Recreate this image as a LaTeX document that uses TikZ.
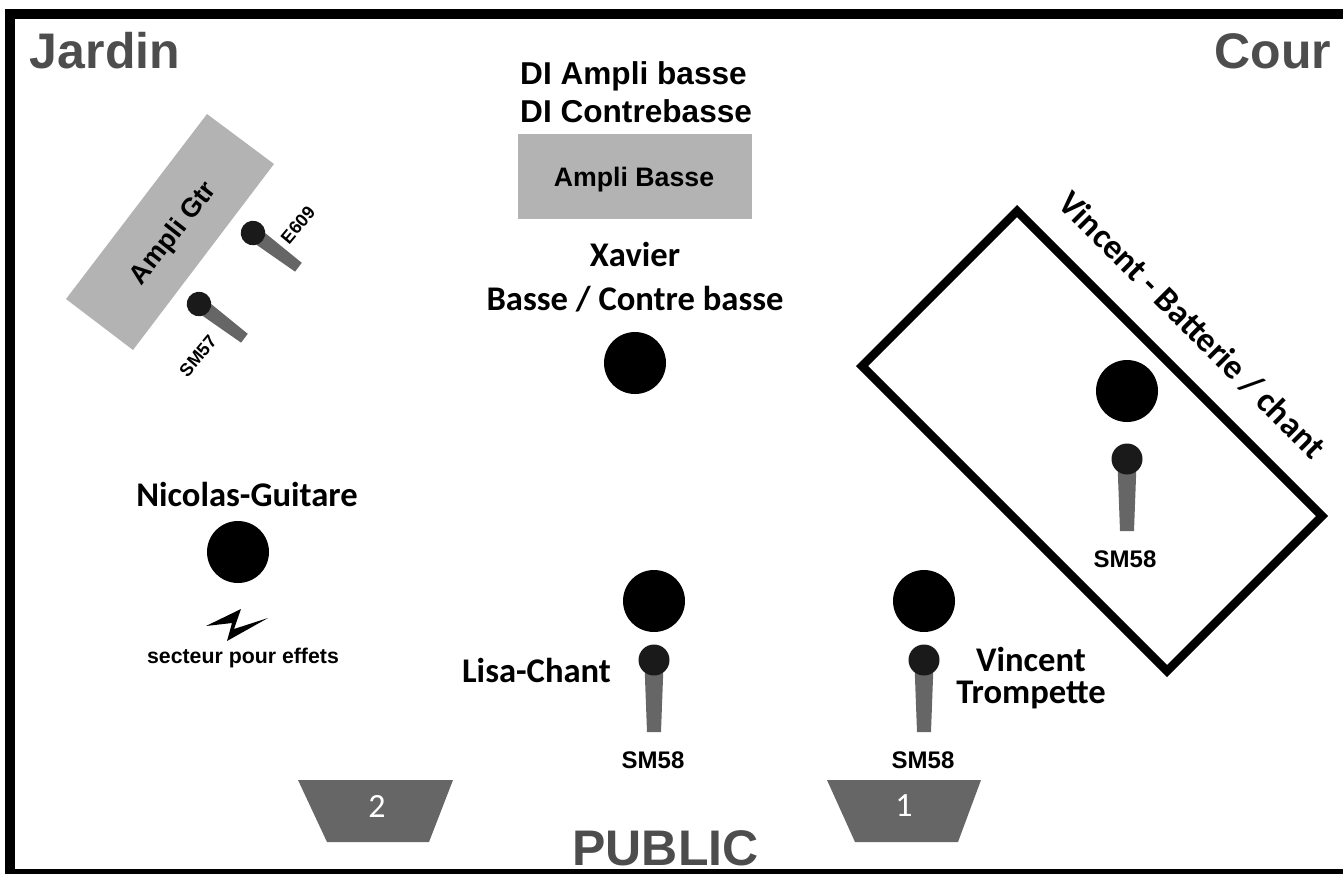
\documentclass[tikz,border=0pt]{standalone}
\usepackage{fontspec}
\setmainfont{Carlito}
\newfontfamily\arialfont{Liberation Sans}
\definecolor{titregris}{HTML}{4D4D4D}
\definecolor{micgris}{HTML}{666666}
\definecolor{micnoir}{HTML}{1A1A1A}
\definecolor{amplgris}{HTML}{B3B3B3}
\tikzset{
  personne/.style={circle,fill=black,inner sep=0pt,minimum size=62pt},
  titre/.style={font=\arialfont\bfseries\fontsize{50}{50}\selectfont,text=titregris,inner sep=0pt,anchor=base},
  nom/.style={font=\bfseries\fontsize{34.6}{34.6}\selectfont,inner sep=0pt,anchor=base,align=center},
  arial/.style={font=\arialfont\bfseries\fontsize{#1}{#1}\selectfont,inner sep=0pt,anchor=base},
  retour/.style={fill=micgris},
  numero/.style={text=white,font=\fontsize{34}{34}\selectfont,inner sep=0pt},
  micro/.pic={
    \fill[micgris] (-9.5,5) -- (9.5,5) -- (7,72) -- (-7,72) -- cycle;
    \fill[micnoir] (0,0) circle (15.5);
  }
}
\begin{document}
\begin{tikzpicture}[x=1pt,y=-1pt]
  \useasboundingbox (0,0) rectangle (1343,873);
  \clip (0,0) rectangle (1343,873);
  % cadre
  \draw[line width=10pt] (10,14) rectangle (1360,874);
  % titres
  \node[titre] (jardin) at (105,68) {Jardin};
  \node[titre] (cour) at (1273,68) {Cour};
  \node[titre] (public) at (665.5,865) {PUBLIC};
  % amplis
  \fill[amplgris] (518,134) rectangle (752,219);
  \node[arial=26.7] (amplibasse) at (634,186) {Ampli Basse};
  \node[arial=31.6,anchor=base west] (dia) at (520,84) {DI Ampli basse};
  \node[arial=31.6,anchor=base west] (dib) at (520,122) {DI Contrebasse};
  \fill[amplgris] (207,114) -- (274,164) -- (133,350) -- (66,299) -- cycle;
  \node[arial=26.7,anchor=center,rotate=52] (ampligtr) at (174,234) {Ampli Gtr};
  % guitare
  \pic[rotate=53,scale=.79] at (253,233) {micro};
  \pic[rotate=53,scale=.79] at (199,304) {micro};
  \node[arial=18,anchor=center,rotate=50] (e609) at (298,225) {E609};
  \node[arial=18,anchor=center,rotate=50] (sm57) at (198,356) {SM57};
  \node[personne] (nicolas) at (238,552) {};
  \node[nom] (nicolasnom) at (247,506) {Nicolas-Guitare};
  \fill (206,626) -- (241,609) -- (234,629) -- (268,618) -- (227,641) -- (232,623) -- cycle;
  \node[arial=21.3] (secteur) at (243,663) {secteur pour effets};
  % basse
  \node[nom] (xavier) at (635,266) {Xavier};
  \node[nom] (xaviernom) at (635,310) {Basse / Contre basse};
  \node[personne] (xavierp) at (635,363) {};
  % batterie
  \draw[line width=8.5pt,miter limit=4] (1017,211) -- (1322,516) -- (1167,671) -- (862,366) -- cycle;
  \node[nom,anchor=center,rotate=-45] (batterie) at (1192,325) {Vincent - Batterie / chant};
  \node[personne] (vincentb) at (1127,391) {};
  \pic at (1127,459) {micro};
  \node[arial=24] (sm58b) at (1125,567) {SM58};
  % chant
  \node[personne] (lisa) at (654,601) {};
  \pic at (654,660) {micro};
  \node[nom] (lisanom) at (536.5,682) {Lisa-Chant};
  \node[arial=24] (sm58l) at (653,768) {SM58};
  % trompette
  \node[personne] (vincentt) at (924,601) {};
  \pic at (924,660) {micro};
  \node[nom] (vincentnom) at (1031,671) {Vincent};
  \node[nom] (trompette) at (1031,703) {Trompette};
  \node[arial=24] (sm58t) at (923,768) {SM58};
  % retours
  \fill[retour] (298,780) -- (453,780) -- (429,842) -- (327,842) -- cycle;
  \node[numero] (retourdeux) at (377,806) {2};
  \fill[retour] (827,780) -- (981,780) -- (958,842) -- (855,842) -- cycle;
  \node[numero] (retourun) at (904,806) {1};
\end{tikzpicture}
\end{document}
